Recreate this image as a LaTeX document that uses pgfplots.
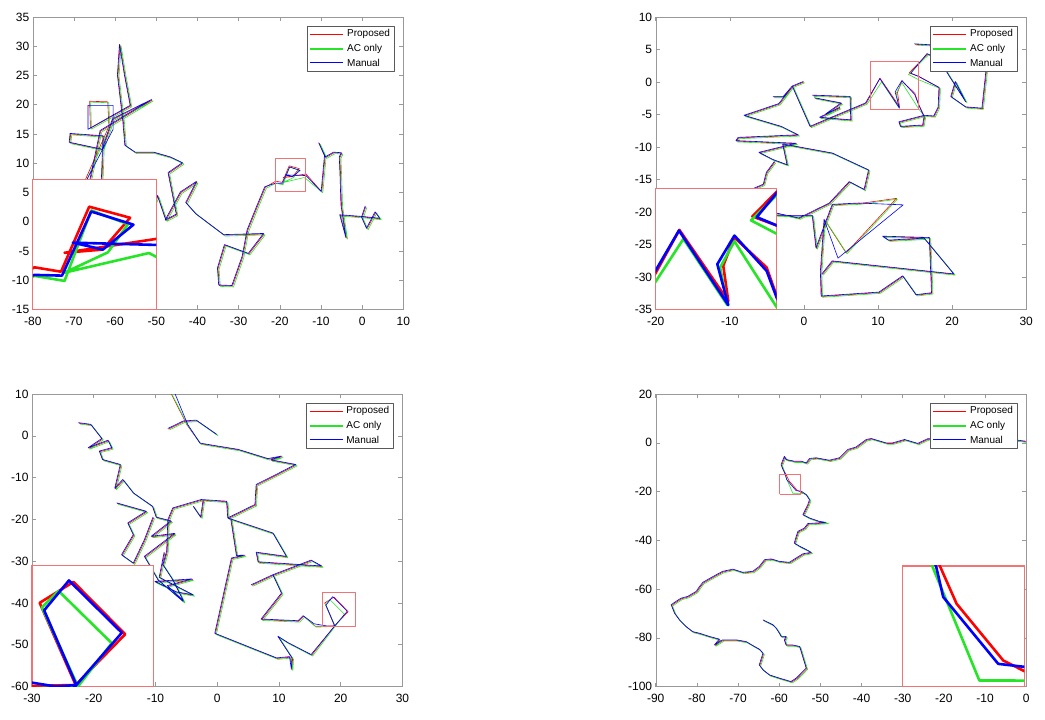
\documentclass[border=0pt]{standalone}
\usepackage{fontspec}
\setmainfont{Liberation Sans}
\usepackage{pgfplots}
\usepackage{pgfplotstable}
\pgfplotsset{compat=1.18}

\definecolor{cR}{rgb}{1,0,0}
\definecolor{cG}{rgb}{0.15,0.9,0.15}
\definecolor{cB}{rgb}{0,0,1}
\definecolor{boxred}{rgb}{0.95,0.45,0.45}

\pgfplotsset{
  mainax/.style={
    scale only axis, anchor=north west, width=370.5pt, height=292.5pt,
    axis line style={draw=black!40},
    every tick/.style={draw=black!40, line width=0.5pt},
    tick align=inside, major tick length=4pt,
    tick label style={font=\large},
    xticklabel style={yshift=-4.5pt},
    /pgf/number format/assume math mode=true,
    unbounded coords=jump,
    every axis plot/.append style={line width=0.6pt, line join=round},
  },
  insetax/.style={
    scale only axis, anchor=south west,
    axis line style={draw=boxred, line width=1.3pt},
    xtick=\empty, ytick=\empty,
    axis background/.style={fill=white},
    unbounded coords=jump,
    every axis plot/.append style={line width=2.6pt, line join=round},
  },
  legbox/.style={fill=white, draw=black!65, line width=0.6pt, forget plot},
  legline/.style={line width=1.2pt, forget plot},
}
% legend text, placed in each axis
\newcommand\legtext{%
  \node[anchor=west, inner sep=0pt] at (rel axis cs:0.848,0.941) {Proposed};
  \node[anchor=west, inner sep=0pt] at (rel axis cs:0.848,0.891) {AC only};
  \node[anchor=west, inner sep=0pt] at (rel axis cs:0.848,0.844) {Manual};}

% ---------- plot 1 ----------
\pgfplotstableread{
x y
0.9 2.6
0.0 0.7
1.2 -1.2
3.3 1.6
4.4 0.5
0.3 0.8
-5.3 1.1
-3.8 -2.8
-5.0 2.8
-5.2 7.5
-5.4 11.0
-4.9 11.7
-6.8 11.8
-8.8 11.0
-10.4 13.4
-9.0 11.2
-9.8 5.1
-13.64 8.17
-19.2 7.56
-16.92 7.70
-15.27 9.08
-17.72 9.56
-19.41 6.74
-21.0 6.93
-23.5 5.9
-25.5 2.5
-27.8 -1.5
-29.0 -6.0
-31.5 -11.0
-34.7 -10.9
-35.0 -8.0
-33.3 -4.0
-27.5 -5.5
-23.8 -2.1
-33.5 -2.3
-40.3 1.3
-42.7 3.2
-40.1 6.8
-44.0 5.0
-47.7 0.2
-45.0 1.2
-47.0 8.3
-43.5 10.0
-46.5 11.0
-50.5 11.8
-55.0 11.8
-57.5 13.0
-58.0 17.2
-59.3 25.0
-58.8 30.2
-57.6 25.0
-56.2 19.8
-66.0 16.0
-66.2 20.6
-61.8 20.5
-61.5 16.3
-70.5 2.0
-74.0 -5.0
-66.0 -8.0
-63.2 7.0
-62.8 14.6
-70.8 15.0
-71.0 13.5
-63.0 12.3
-60.5 17.5
-51.0 20.8
-63.5 15.5
-67.5 2.0
-62.0 -3.0
-55.0 -6.0
-49.6 4.4
-47.6 0.3
}\Ar
\pgfplotstableread{
x y
1.15 2.45
0.25 0.55
1.45 -1.35
3.55 1.45
4.65 0.35
0.55 0.65
-5.05 0.95
-3.55 -2.95
-4.75 2.65
-4.95 7.35
-5.15 10.85
-4.65 11.55
-6.55 11.65
-8.55 10.85
-10.15 13.25
-8.75 11.05
-9.55 4.95
-13.64 7.36
-14.14 7.55
-19.2 6.7
-16.6 7.58
-15.4 8.8
-17.6 9.4
-19.2 6.34
-21.0 6.56
-23.25 5.75
-25.25 2.35
-27.55 -1.65
-28.75 -6.15
-31.25 -11.15
-34.45 -11.05
-34.75 -8.15
-33.05 -4.15
-27.25 -5.65
-23.55 -2.25
-33.25 -2.45
-40.05 1.15
-42.45 3.05
-39.85 6.65
-43.75 4.85
-47.45 0.05
-44.75 1.05
-46.75 8.15
-43.25 9.85
-46.25 10.85
-50.25 11.65
-54.75 11.65
-57.25 12.85
-57.75 17.05
-59.05 24.85
-58.55 30.05
-57.35 24.85
-55.95 19.65
-65.75 15.85
-65.95 20.45
-61.55 20.35
-61.25 16.15
-70.25 1.85
-73.75 -5.15
-65.75 -8.15
-62.95 6.85
-62.55 14.45
-70.55 14.85
-70.75 13.35
-62.75 12.15
-60.25 17.35
-50.75 20.65
-63.25 15.35
-67.25 1.85
-61.75 -3.15
-54.75 -6.15
-49.35 4.25
-47.35 0.15
}\Ag
\pgfplotstableread{
x y
0.75 2.7
-0.15 0.8
1.05 -1.1
3.15 1.7
4.25 0.6
0.15 0.9
-5.45 1.2
-3.95 -2.7
-5.15 2.9
-5.35 7.6
-5.55 11.1
-5.05 11.8
-6.95 11.9
-8.95 11.1
-10.55 13.5
-9.15 11.3
-9.95 5.2
-13.64 7.9
-18.7 8.0
-16.9 7.7
-15.07 8.78
-17.6 9.35
-19.35 6.57
-21.0 6.6
-23.65 6.0
-25.65 2.6
-27.95 -1.4
-29.15 -5.9
-31.65 -10.9
-34.85 -10.8
-35.15 -7.9
-33.45 -3.9
-27.65 -5.4
-23.95 -2.0
-33.65 -2.2
-40.45 1.4
-42.85 3.3
-40.25 6.9
-44.15 5.1
-47.85 0.3
-45.15 1.3
-47.15 8.4
-43.65 10.1
-46.65 11.1
-50.65 11.9
-55.15 11.9
-57.65 13.1
-58.15 17.3
-59.45 25.1
-58.95 30.3
-57.75 25.1
-56.35 19.9
-66.6 15.8
-66.6 19.9
-60.5 19.9
-60.5 15.8
-70.65 2.1
-74.15 -4.9
-66.15 -7.9
-63.35 7.1
-62.95 14.7
-70.95 15.1
-71.15 13.6
-63.15 12.4
-60.65 17.6
-51.15 20.9
-63.65 15.6
-67.65 2.1
-62.15 -2.9
-55.15 -5.9
-49.75 4.5
-47.75 0.4
}\Ab

% ---------- plot 2 ----------
\pgfplotstableread{
x y
0.0 0.0
-1.5 -0.7
-3.3 -3.4
-8.0 -5.2
-3.0 -6.9
-0.7 -8.2
-8.8 -8.6
-9.1 -9.1
-1.0 -9.5
-6.0 -10.9
-4.1 -12.0
-2.2 -12.8
-2.8 -9.6
3.9 -11.0
8.8 -13.6
8.2 -16.6
6.2 -15.4
3.5 -18.7
-0.6 -21.0
-3.8 -20.2
-10.0 -24.0
-14.0 -20.0
-5.4 -15.8
-5.0 -14.0
-3.9 -12.3
nan nan
-4.1 -2.3
-2.7 -2.3
-1.5 -0.7
0.9 -6.9
4.0 -5.4
8.4 -3.3
10.27 0.58
12.90 -3.78
12.63 -1.62
13.21 0.13
14.96 -1.72
15.5 -3.47
16.3 -5.4
16.1 -6.7
13.1 -6.9
12.9 -6.2
16.3 -5.2
17.6 -5.3
18.2 -3.9
18.3 -0.9
15.5 0.85
14.19 1.40
16.7 4.3
18.4 3.3
19.6 1.0
21.9 -3.1
20.5 0.0
19.9 -2.3
21.9 -3.9
24.1 -4.1
24.8 3.3
26.0 5.0
15.0 5.8
nan nan
1.2 -2.1
6.3 -2.3
6.4 -5.9
2.2 -5.5
4.9 -4.0
3.0 -5.0
5.1 -3.3
1.5 -2.5
nan nan
-3.7 -20.6
1.2 -20.6
1.7 -25.6
3.9 -18.9
7.5 -18.7
12.5 -17.9
5.7 -26.3
2.8 -21.2
2.3 -29.2
2.4 -33.0
10.2 -32.4
13.4 -29.9
15.2 -32.8
17.3 -32.5
17.0 -24.0
10.7 -23.8
11.5 -24.4
16.3 -24.1
20.3 -29.6
3.9 -27.6
2.5 -29.6
}\Br
\pgfplotstableread{
x y
0.12 -0.12
-1.38 -0.82
-3.18 -3.52
-7.88 -5.32
-2.88 -7.02
-0.58 -8.32
-8.68 -8.72
-8.98 -9.22
-0.88 -9.62
-5.88 -11.02
-3.98 -12.12
-2.08 -12.92
-2.68 -9.72
4.02 -11.12
8.92 -13.72
8.32 -16.72
6.32 -15.52
3.62 -18.82
-0.48 -21.12
-3.68 -20.32
-9.88 -24.12
-13.88 -20.12
-5.28 -15.92
-4.88 -14.12
-3.78 -12.42
nan nan
-3.98 -2.42
-2.58 -2.42
-1.38 -0.82
1.02 -7.02
4.12 -5.52
8.52 -3.42
10.49 0.03
12.85 -4.02
12.46 -1.72
13.23 -0.12
15.5 -4.15
16.42 -5.52
16.22 -6.82
13.22 -7.02
13.02 -6.32
16.42 -5.32
17.72 -5.42
18.32 -4.02
18.42 -1.02
15.5 0.34
14.12 1.16
16.82 4.18
18.52 3.18
19.72 0.88
22.02 -3.22
20.62 -0.12
20.02 -2.42
22.02 -4.02
24.22 -4.22
24.92 3.18
26.12 4.88
15.12 5.68
nan nan
1.32 -2.22
6.42 -2.42
6.52 -6.02
2.32 -5.62
5.02 -4.12
3.12 -5.12
5.22 -3.42
1.62 -2.62
nan nan
-3.58 -20.72
1.32 -20.72
1.82 -25.72
4.02 -19.02
7.62 -18.82
12.62 -18.02
5.82 -26.42
2.92 -21.32
2.42 -29.32
2.52 -33.12
10.32 -32.52
13.52 -30.02
15.32 -32.92
17.42 -32.62
17.12 -24.12
10.82 -23.92
11.62 -24.52
16.42 -24.22
20.42 -29.72
4.02 -27.72
2.62 -29.72
}\Bg
\pgfplotstableread{
x y
-0.08 0.08
-1.58 -0.62
-3.38 -3.32
-8.08 -5.12
-3.08 -6.82
-0.78 -8.12
-8.88 -8.52
-9.18 -9.02
-1.08 -9.42
-6.08 -10.82
-4.18 -11.92
-2.28 -12.72
-2.88 -9.52
3.82 -10.92
8.72 -13.52
8.12 -16.52
6.12 -15.32
3.42 -18.62
-0.68 -20.92
-3.88 -20.12
-10.08 -23.92
-14.08 -19.92
-5.48 -15.72
-5.08 -13.92
-3.98 -12.22
nan nan
-4.18 -2.22
-2.78 -2.22
-1.58 -0.62
0.82 -6.82
3.92 -5.32
8.32 -3.22
10.25 0.54
12.9 -4.02
12.31 -1.52
13.23 0.23
14.96 -1.93
15.5 -3.57
16.22 -5.32
16.02 -6.62
13.02 -6.82
12.82 -6.12
16.22 -5.12
17.52 -5.22
18.12 -3.82
18.22 -0.82
15.5 0.85
14.43 1.36
16.62 4.38
18.32 3.38
19.52 1.08
21.82 -3.02
20.42 0.08
19.82 -2.22
21.82 -3.82
24.02 -4.02
24.72 3.38
25.92 5.08
14.92 5.88
nan nan
1.12 -2.02
6.22 -2.22
6.32 -5.82
2.12 -5.42
4.82 -3.92
2.92 -4.92
5.02 -3.22
1.42 -2.42
nan nan
-3.78 -20.52
1.12 -20.52
1.62 -25.52
3.82 -18.82
7.42 -18.62
13.4 -18.9
4.6 -27.1
2.72 -21.12
2.22 -29.12
2.32 -32.92
10.12 -32.32
13.32 -29.82
15.12 -32.72
17.22 -32.42
16.92 -23.92
10.62 -23.72
11.42 -24.32
16.22 -24.02
20.22 -29.52
3.82 -27.52
2.42 -29.52
}\Bb

% ---------- plot 3 ----------
\pgfplotstableread{
x y
-7.6 10.5
-4.9 2.6
-2.7 -1.9
3.5 -3.4
8.3 -5.6
10.5 -5.0
8.8 -5.9
12.8 -7.0
9.9 -9.2
6.4 -11.8
6.2 -16.6
1.8 -19.8
1.6 -15.8
-2.5 -15.4
-7.1 -17.4
-7.9 -20.2
-8.1 -27.8
-8.7 -31.0
-7.1 -34.6
-5.4 -39.6
-8.0 -36.0
-4.0 -34.4
-10.0 -35.0
-6.5 -37.5
-3.8 -38.2
-9.3 -34.0
-8.5 -28.0
nan nan
-7.9 1.6
-5.4 3.4
-3.3 3.6
0.0 0.2
nan nan
-22.4 3.0
-20.4 2.6
-18.6 -0.8
-20.8 -3.0
-17.6 -1.2
-17.0 -3.0
-19.0 -3.8
-18.5 -5.8
-15.6 -7.0
-16.5 -12.7
-15.2 -10.6
-13.5 -13.8
-10.4 -17.0
-9.8 -19.6
-7.4 -20.5
-10.6 -24.2
-6.8 -23.5
-11.7 -29.0
-9.5 -34.6
-5.4 -39.8
nan nan
-16.2 -16.2
-11.4 -18.2
-14.4 -21.0
-13.5 -23.8
-15.4 -28.6
-13.5 -30.6
-11.7 -25.0
-10.3 -19.6
nan nan
-3.8 -17.0
-2.6 -19.6
-2.2 -15.6
nan nan
1.8 -19.8
9.1 -23.4
11.3 -29.0
6.4 -28.0
6.7 -30.3
17.0 -31.3
15.3 -29.9
9.1 -33.4
5.6 -35.8
nan nan
9.1 -33.4
10.5 -37.8
7.2 -44.0
13.2 -44.4
14.0 -43.2
15.9 -45.6
19.0 -45.5
21.2 -42.1
18.9 -38.6
17.4 -40.0
19.0 -45.5
15.3 -52.5
11.5 -49.6
9.9 -48.1
12.2 -53.3
12.1 -56.0
11.8 -53.0
9.7 -53.3
-0.3 -47.4
2.4 -29.4
4.5 -28.7
3.2 -28.8
2.3 -20.2
}\Cr
\pgfplotstableread{
x y
-7.45 10.3
-4.75 2.4
-2.55 -2.1
3.65 -3.6
8.45 -5.8
10.65 -5.2
8.95 -6.1
12.95 -7.2
10.05 -9.4
6.55 -12.0
6.35 -16.8
1.95 -20.0
1.75 -16.0
-2.35 -15.6
-6.95 -17.6
-7.75 -20.4
-7.95 -28.0
-8.55 -31.2
-6.95 -34.8
-5.25 -39.8
-7.85 -36.2
-3.85 -34.6
-9.85 -35.2
-6.35 -37.7
-3.65 -38.4
-9.15 -34.2
-8.35 -28.2
nan nan
-7.75 1.4
-5.25 3.2
-3.15 3.4
0.15 0.0
nan nan
-22.25 2.8
-20.25 2.4
-18.45 -1.0
-20.65 -3.2
-17.45 -1.4
-16.85 -3.2
-18.85 -4.0
-18.35 -6.0
-15.45 -7.2
-16.35 -12.9
-15.05 -10.8
-13.35 -14.0
-10.25 -17.2
-9.65 -19.8
-7.25 -20.7
-10.45 -24.4
-6.65 -23.7
-11.55 -29.2
-9.35 -34.8
-5.25 -40.0
nan nan
-16.05 -16.4
-11.25 -18.4
-14.25 -21.2
-13.35 -24.0
-15.25 -28.8
-13.35 -30.8
-11.55 -25.2
-10.15 -19.8
nan nan
-3.65 -17.2
-2.45 -19.8
-2.05 -15.8
nan nan
1.95 -20.0
9.25 -23.6
11.45 -29.2
6.55 -28.2
6.85 -30.5
17.15 -31.5
15.45 -30.1
9.25 -33.6
5.75 -36.0
nan nan
9.25 -33.6
10.65 -38.0
7.35 -44.2
13.35 -44.6
14.15 -43.4
16.05 -45.8
19.1 -45.6
20.6 -42.7
18.24 -39.2
17.5 -40.3
19.1 -45.6
15.45 -52.7
11.65 -49.8
10.05 -48.3
12.35 -53.5
12.25 -56.2
11.95 -53.2
9.85 -53.5
-0.15 -47.6
2.55 -29.6
4.65 -28.9
3.35 -29.0
2.45 -20.4
}\Cg
\pgfplotstableread{
x y
-7.0 10.65
-4.8 2.75
-2.8 -1.75
3.4 -3.25
8.2 -5.45
10.4 -4.85
8.7 -5.75
12.7 -6.85
9.8 -9.05
6.3 -11.65
6.1 -16.45
1.7 -19.65
1.5 -15.65
-2.6 -15.25
-7.2 -17.25
-8.0 -20.05
-8.2 -27.65
-8.8 -30.85
-7.2 -34.45
-5.5 -39.45
-8.1 -35.85
-4.1 -34.25
-10.1 -34.85
-6.6 -37.35
-3.9 -38.05
-9.4 -33.85
-8.6 -27.85
nan nan
-8.0 1.75
-5.5 3.55
-3.4 3.75
-0.1 0.35
nan nan
-22.5 3.15
-20.5 2.75
-18.7 -0.65
-20.9 -2.85
-17.7 -1.05
-17.1 -2.85
-19.1 -3.65
-18.6 -5.65
-15.7 -6.85
-16.6 -12.55
-15.3 -10.45
-13.6 -13.65
-10.5 -16.85
-9.9 -19.45
-7.5 -20.35
-10.7 -24.05
-6.9 -23.35
-11.8 -28.85
-9.6 -34.45
-5.5 -39.65
nan nan
-16.3 -16.05
-11.5 -18.05
-14.5 -20.85
-13.6 -23.65
-15.5 -28.45
-13.6 -30.45
-11.8 -24.85
-10.4 -19.45
nan nan
-3.9 -16.85
-2.7 -19.45
-2.3 -15.45
nan nan
1.7 -19.65
9.0 -23.25
11.2 -28.85
6.3 -27.85
6.6 -30.15
16.9 -31.15
15.2 -29.75
9.0 -33.25
5.5 -35.65
nan nan
9.0 -33.25
10.4 -37.65
7.1 -43.85
13.1 -44.25
13.9 -43.05
15.7 -45.0
18.1 -45.6
19.03 -45.5
21.05 -42.0
18.7 -38.5
17.6 -40.5
19.03 -45.5
15.2 -52.35
11.4 -49.45
9.8 -47.95
12.1 -53.15
12.0 -55.85
11.7 -52.85
9.6 -53.15
-0.4 -47.25
2.3 -29.25
4.4 -28.55
3.1 -28.65
2.2 -20.05
}\Cb

% ---------- plot 4 ----------
\pgfplotstableread{
x y
0.0 0.4
-1.9 0.8
-6.0 1.5
-12.0 0.5
-17.0 1.5
-23.8 1.4
-26.2 -0.5
-29.4 1.1
-32.3 -0.3
-33.9 -0.3
-37.5 1.5
-38.7 1.1
-41.2 -2.0
-43.2 -3.0
-45.2 -6.4
-47.7 -7.4
-50.9 -6.4
-52.5 -6.7
-53.3 -8.5
-54.5 -7.8
-56.2 -7.8
-58.2 -7.1
-58.6 -5.8
-59.4 -9.2
-59.0 -11.0
-58.33 -13.0
-57.63 -15.57
-55.68 -19.43
-54.5 -20.4
-53.3 -21.5
-52.5 -23.6
-52.9 -25.6
-53.7 -28.4
-54.1 -29.7
-52.5 -31.1
-50.1 -32.5
-48.5 -32.9
-52.9 -33.4
-53.7 -35.2
-55.3 -36.6
-55.7 -38.6
-56.2 -41.4
-54.9 -42.7
-52.9 -44.4
-52.1 -45.2
-54.1 -45.8
-57.4 -49.3
-59.8 -48.9
-61.8 -47.9
-63.4 -48.2
-64.7 -51.0
-66.3 -53.0
-68.7 -53.4
-71.1 -52.1
-73.6 -53.0
-75.9 -55.1
-78.4 -57.5
-79.2 -59.2
-80.0 -61.2
-82.1 -63.3
-83.7 -64.0
-84.9 -65.3
-86.1 -66.7
-85.3 -70.1
-84.1 -72.9
-82.5 -75.6
-80.9 -77.7
-79.2 -78.4
-76.8 -79.7
-74.4 -80.8
-75.6 -83.2
-73.6 -81.1
-70.3 -81.1
-67.9 -81.8
-65.9 -83.8
-64.7 -84.9
-63.8 -86.6
-64.7 -91.4
-63.8 -93.4
-62.2 -95.5
-59.8 -96.8
-57.0 -98.2
-55.7 -96.8
-53.3 -92.7
-54.9 -83.8
-56.6 -83.2
-58.2 -83.2
-58.6 -81.1
-58.2 -79.7
-59.4 -79.7
-59.8 -78.4
-60.6 -76.3
-61.4 -74.9
-63.8 -72.9
}\Dr
\pgfplotstableread{
x y
0.2 0.1
-1.7 0.5
-5.8 1.2
-11.8 0.2
-16.8 1.2
-23.6 1.1
-26.0 -0.8
-29.2 0.8
-32.1 -0.6
-33.7 -0.6
-37.3 1.2
-38.5 0.8
-41.0 -2.3
-43.0 -3.3
-45.0 -6.7
-47.5 -7.7
-50.7 -6.7
-52.3 -7.0
-53.1 -8.8
-54.3 -8.1
-56.0 -8.1
-58.0 -7.4
-58.4 -6.1
-59.2 -9.5
-58.8 -11.3
-58.65 -13.0
-56.68 -20.79
-54.0 -20.8
-53.1 -21.8
-52.3 -23.9
-52.7 -25.9
-53.5 -28.7
-53.9 -30.0
-52.3 -31.4
-49.9 -32.8
-47.9 -33.2
-52.7 -33.7
-53.5 -35.5
-55.1 -36.9
-55.5 -38.9
-56.0 -41.7
-54.7 -43.0
-52.7 -44.7
-51.9 -45.5
-53.9 -46.1
-57.2 -49.6
-59.6 -49.2
-61.6 -48.2
-63.2 -48.5
-64.5 -51.3
-66.1 -53.3
-68.5 -53.7
-70.9 -52.4
-73.4 -53.3
-75.7 -55.4
-78.2 -57.8
-79.0 -59.5
-79.8 -61.5
-81.9 -63.6
-83.5 -64.3
-84.7 -65.6
-85.9 -67.0
-85.1 -70.4
-83.9 -73.2
-82.3 -75.9
-80.7 -78.0
-79.0 -78.7
-76.6 -80.0
-74.2 -81.1
-75.4 -83.5
-73.4 -81.4
-70.1 -81.4
-67.7 -82.1
-65.7 -84.1
-64.5 -85.2
-63.6 -86.9
-64.5 -91.7
-63.6 -93.7
-62.0 -95.8
-59.6 -97.1
-56.8 -98.5
-55.5 -97.1
-53.1 -93.0
-54.7 -84.1
-56.4 -83.5
-58.0 -83.5
-58.4 -81.4
-58.0 -80.0
-59.2 -80.0
-59.6 -78.7
-60.4 -76.6
-61.2 -75.2
-63.6 -73.2
}\Dg
\pgfplotstableread{
x y
-0.15 0.65
-2.05 1.05
-6.15 1.75
-12.15 0.75
-17.15 1.75
-23.95 1.65
-26.35 -0.25
-29.55 1.35
-32.45 -0.05
-34.05 -0.05
-37.65 1.75
-38.85 1.35
-41.35 -1.75
-43.35 -2.75
-45.35 -6.15
-47.85 -7.15
-51.05 -6.15
-52.65 -6.45
-53.45 -8.25
-54.65 -7.55
-56.35 -7.55
-58.35 -6.85
-58.75 -5.55
-59.55 -8.95
-59.15 -10.75
-58.49 -13.0
-58.19 -15.11
-55.89 -19.66
-54.6 -19.9
-53.45 -21.25
-52.65 -23.35
-53.05 -25.35
-53.85 -28.15
-54.25 -29.45
-52.65 -30.85
-50.25 -32.25
-48.65 -32.65
-53.05 -33.15
-53.85 -34.95
-55.45 -36.35
-55.85 -38.35
-56.35 -41.15
-55.05 -42.45
-53.05 -44.15
-52.25 -44.95
-54.25 -45.55
-57.55 -49.05
-59.95 -48.65
-61.95 -47.65
-63.55 -47.95
-64.85 -50.75
-66.45 -52.75
-68.85 -53.15
-71.25 -51.85
-73.75 -52.75
-76.05 -54.85
-78.55 -57.25
-79.35 -58.95
-80.15 -60.95
-82.25 -63.05
-83.85 -63.75
-85.05 -65.05
-86.25 -66.45
-85.45 -69.85
-84.25 -72.65
-82.65 -75.35
-81.05 -77.45
-79.35 -78.15
-76.95 -79.45
-74.55 -80.55
-75.75 -82.95
-73.75 -80.85
-70.45 -80.85
-68.05 -81.55
-66.05 -83.55
-64.85 -84.65
-63.95 -86.35
-64.85 -91.15
-63.95 -93.15
-62.35 -95.25
-59.95 -96.55
-57.15 -97.95
-55.85 -96.55
-53.45 -92.45
-55.05 -83.55
-56.75 -82.95
-58.35 -82.95
-58.75 -80.85
-58.35 -79.45
-59.55 -79.45
-59.95 -78.15
-60.75 -76.05
-61.55 -74.65
-63.95 -72.65
}\Db

\begin{document}
\begin{tikzpicture}
\useasboundingbox (0,0) rectangle (1045pt,-720pt);

% ===== top left =====
\begin{axis}[mainax, at={(32.8pt,-17pt)},
  xmin=-80, xmax=10, ymin=-15, ymax=35,
  xtick={-80,-70,...,10}, ytick={-15,-10,...,35}]
\addplot[cR] table {\Ar};
\addplot[cG] table {\Ag};
\addplot[cB] table {\Ab};
\addplot[boxred, line width=0.9pt, forget plot] coordinates
  {(-21.1,5.1) (-13.7,5.1) (-13.7,10.74) (-21.1,10.74) (-21.1,5.1)};
\addplot[legbox] coordinates {(-13.32,25.77) (7.81,25.77) (7.81,33.46) (-13.32,33.46)} -- cycle;
\addplot[legline, cR] coordinates {(-12.59,32.05) (-4.57,32.05)};
\addplot[legline, cG] coordinates {(-12.59,29.53) (-4.57,29.53)};
\addplot[legline, cB] coordinates {(-12.59,27.19) (-4.57,27.19)};
\legtext
\end{axis}
\begin{axis}[insetax, at={(32.8pt,-309.5pt)}, width=123.5pt, height=130pt,
  xmin=-21.1, xmax=-13.7, ymin=5.1, ymax=10.74]
\addplot[cR] table {\Ar};
\addplot[cG] table {\Ag};
\addplot[cB] table {\Ab};
\end{axis}

% ===== top right =====
\begin{axis}[mainax, at={(655.7pt,-17pt)},
  xmin=-20, xmax=30, ymin=-35, ymax=10,
  xtick={-20,-10,...,30}, ytick={-35,-30,...,10}]
\addplot[cR] table {\Br};
\addplot[cG] table {\Bg};
\addplot[cB] table {\Bb};
\addplot[boxred, line width=0.9pt, forget plot] coordinates
  {(9.0,-4.29) (15.5,-4.29) (15.5,3.11) (9.0,3.11) (9.0,-4.29)};
\addplot[legbox] coordinates {(17.05,1.69) (28.79,1.69) (28.79,8.61) (17.05,8.61)} -- cycle;
\addplot[legline, cR] coordinates {(17.45,7.34) (21.91,7.34)};
\addplot[legline, cG] coordinates {(17.45,5.08) (21.91,5.08)};
\addplot[legline, cB] coordinates {(17.45,2.97) (21.91,2.97)};
\legtext
\end{axis}
\begin{axis}[insetax, at={(655.7pt,-309.5pt)}, width=121pt, height=121pt,
  xmin=9.0, xmax=15.5, ymin=-4.29, ymax=3.11]
\addplot[cR] table {\Br};
\addplot[cG] table {\Bg};
\addplot[cB] table {\Bb};
\end{axis}

% ===== bottom left =====
\begin{axis}[mainax, at={(32pt,-394pt)},
  xmin=-30, xmax=30, ymin=-60, ymax=10,
  xtick={-30,-20,...,30}, ytick={-60,-50,...,10}]
\addplot[cR] table {\Cr};
\addplot[cG] table {\Cg};
\addplot[cB] table {\Cb};
\addplot[boxred, line width=0.9pt, forget plot] coordinates
  {(17.06,-45.6) (22.46,-45.6) (22.46,-37.5) (17.06,-37.5) (17.06,-45.6)};
\addplot[legbox] coordinates {(14.45,-2.92) (28.54,-2.92) (28.54,7.84) (14.45,7.84)} -- cycle;
\addplot[legline, cR] coordinates {(14.94,5.86) (20.29,5.86)};
\addplot[legline, cG] coordinates {(14.94,2.34) (20.29,2.34)};
\addplot[legline, cB] coordinates {(14.94,-0.93) (20.29,-0.93)};
\legtext
\end{axis}
\begin{axis}[insetax, at={(32pt,-686.5pt)}, width=121.6pt, height=121pt,
  xmin=17.06, xmax=22.46, ymin=-45.6, ymax=-37.5]
\addplot[cR] table {\Cr};
\addplot[cG] table {\Cg};
\addplot[cB] table {\Cb};
\end{axis}

% ===== bottom right =====
\begin{axis}[mainax, at={(655.7pt,-394pt)},
  xmin=-90, xmax=0, ymin=-100, ymax=20,
  xtick={-90,-80,...,0}, ytick={-100,-80,...,20}]
\addplot[cR] table {\Dr};
\addplot[cG] table {\Dg};
\addplot[cB] table {\Db};
\addplot[boxred, line width=0.9pt, forget plot] coordinates
  {(-59.9,-21.2) (-54.8,-21.2) (-54.8,-13.0) (-59.9,-13.0) (-59.9,-21.2)};
\addplot[legbox] coordinates {(-23.32,-2.15) (-2.19,-2.15) (-2.19,16.30) (-23.32,16.30)} -- cycle;
\addplot[legline, cR] coordinates {(-22.59,12.91) (-14.57,12.91)};
\addplot[legline, cG] coordinates {(-22.59,6.87) (-14.57,6.87)};
\addplot[legline, cB] coordinates {(-22.59,1.26) (-14.57,1.26)};
\legtext
\end{axis}
\begin{axis}[insetax, at={(902.3pt,-686.5pt)}, width=122pt, height=120.5pt,
  xmin=-59.9, xmax=-54.8, ymin=-21.2, ymax=-13.0]
\addplot[cR] table {\Dr};
\addplot[cG] table {\Dg};
\addplot[cB] table {\Db};
\end{axis}
\end{tikzpicture}
\end{document}
